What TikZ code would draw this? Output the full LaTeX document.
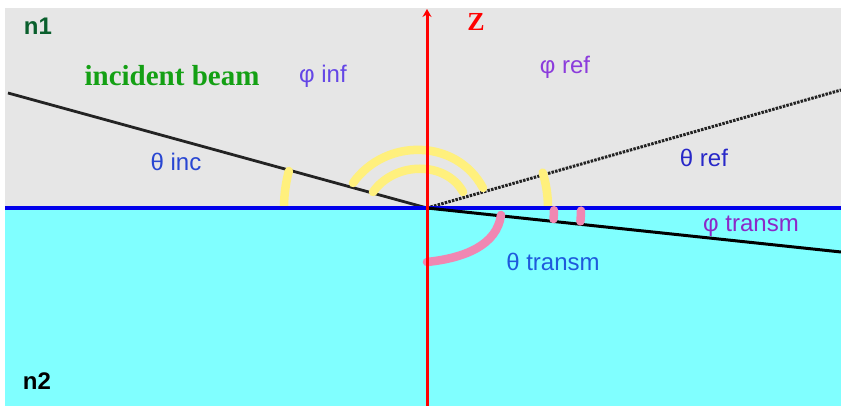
\documentclass[tikz,border=0pt]{standalone}
\usepackage{fontspec}
\setmainfont{Liberation Serif}
\setsansfont{Liberation Sans}
\usetikzlibrary{arrows.meta}
\definecolor{bggray}{RGB}{230,230,230}
\definecolor{cyanbg}{RGB}{128,255,255}
\definecolor{ifblue}{RGB}{0,0,235}
\definecolor{beamgray}{RGB}{35,35,35}
\definecolor{yarccol}{RGB}{255,240,125}
\definecolor{parccol}{RGB}{240,135,178}
\definecolor{nonegreen}{RGB}{10,95,45}
\definecolor{beamgreen}{RGB}{20,160,20}
\definecolor{thincol}{RGB}{40,70,210}
\definecolor{threfcol}{RGB}{40,40,200}
\definecolor{thtrcol}{RGB}{30,90,220}
\definecolor{phinfcol}{RGB}{100,70,230}
\definecolor{phrefcol}{RGB}{140,60,220}
\definecolor{phtrcol}{RGB}{140,40,200}
\begin{document}
\begin{tikzpicture}[x=1pt,y=1pt,
  lbl/.style={inner sep=0pt, font=\sffamily\fontsize{24}{24}\selectfont},
  boldlbl/.style={inner sep=0pt, font=\sffamily\bfseries\fontsize{24}{24}\selectfont},
  beamline/.style={draw=beamgray, line width=2.8pt},
  refline/.style={draw=beamgray, line width=3pt, dash pattern=on 2.5pt off 1.2pt},
  trline/.style={draw=black, line width=3pt},
  ifline/.style={draw=ifblue, line width=3.5pt},
  yarc/.style={draw=yarccol, line width=8.5pt, line cap=round},
  parc/.style={draw=parccol, line width=8.5pt, line cap=round},
  zaxis/.style={draw=red, line width=3pt, -{Stealth[length=8pt,width=9pt]}}]
\useasboundingbox (0,0) rectangle (841,406);
\fill[white] (0,0) rectangle (841,406);
\fill[bggray] (5,198) rectangle (841,398);
\fill[cyanbg] (5,0) rectangle (841,198);
% coordinates
\coordinate (O) at (427,198);
\coordinate (inc) at (8,313);
\coordinate (refl) at (841,316);
\coordinate (tr) at (841,154);
\coordinate (ifl) at (5,198);
\coordinate (ifr) at (841,198);
\coordinate (zbot) at (427,0);
\coordinate (ztop) at (427,397);
% beams
\draw[beamline] (inc) -- (O);
\draw[refline] (O) -- (refl);
% yellow arcs
\draw[yarc] (O) ++(179:143) arc[start angle=179, end angle=165, radius=143];
\draw[yarc] (O) ++(1:121) arc[start angle=1, end angle=17, radius=121];
\draw[yarc] (353,223) .. controls (385,268) and (456,268) .. (483,218);
\draw[yarc] (373,214) .. controls (395,245) and (446,245) .. (463,214);
% interface
\draw[ifline] (ifl) -- (ifr);
% transmitted beam
\draw[trline] (O) -- (tr);
% pink arcs
\draw[parc] (427,144) .. controls (465,148) and (497,161) .. (501,191);
\draw[parc] (O) ++(-1:127) arc[start angle=-1, end angle=-5, radius=127];
\draw[parc] (O) ++(-1:154) arc[start angle=-1, end angle=-5, radius=154];
% z axis
\draw[zaxis] (zbot) -- (ztop);
% labels
\node[boldlbl, text=nonegreen] (n1) at (38,380) {n1};
\node[boldlbl, text=black] (n2) at (37,25) {n2};
\node[inner sep=0pt, font=\rmfamily\bfseries\fontsize{29}{29}\selectfont, text=beamgreen] (ib) at (172,330) {incident beam};
\node[inner sep=0pt, font=\rmfamily\bfseries\fontsize{26}{26}\selectfont, text=red] (zl) at (476,384) {Z};
\node[lbl, text=phinfcol] (phinf) at (323,330) {φ inf};
\node[lbl, text=phrefcol] (phref) at (565,339) {φ ref};
\node[lbl, text=thincol] (thinc) at (176,244) {θ inc};
\node[lbl, text=threfcol] (thref) at (704,248) {θ ref};
\node[lbl, text=phtrcol] (phtr) at (751,180) {φ transm};
\node[lbl, text=thtrcol] (thtr) at (553,144) {θ transm};
\end{tikzpicture}
\end{document}
